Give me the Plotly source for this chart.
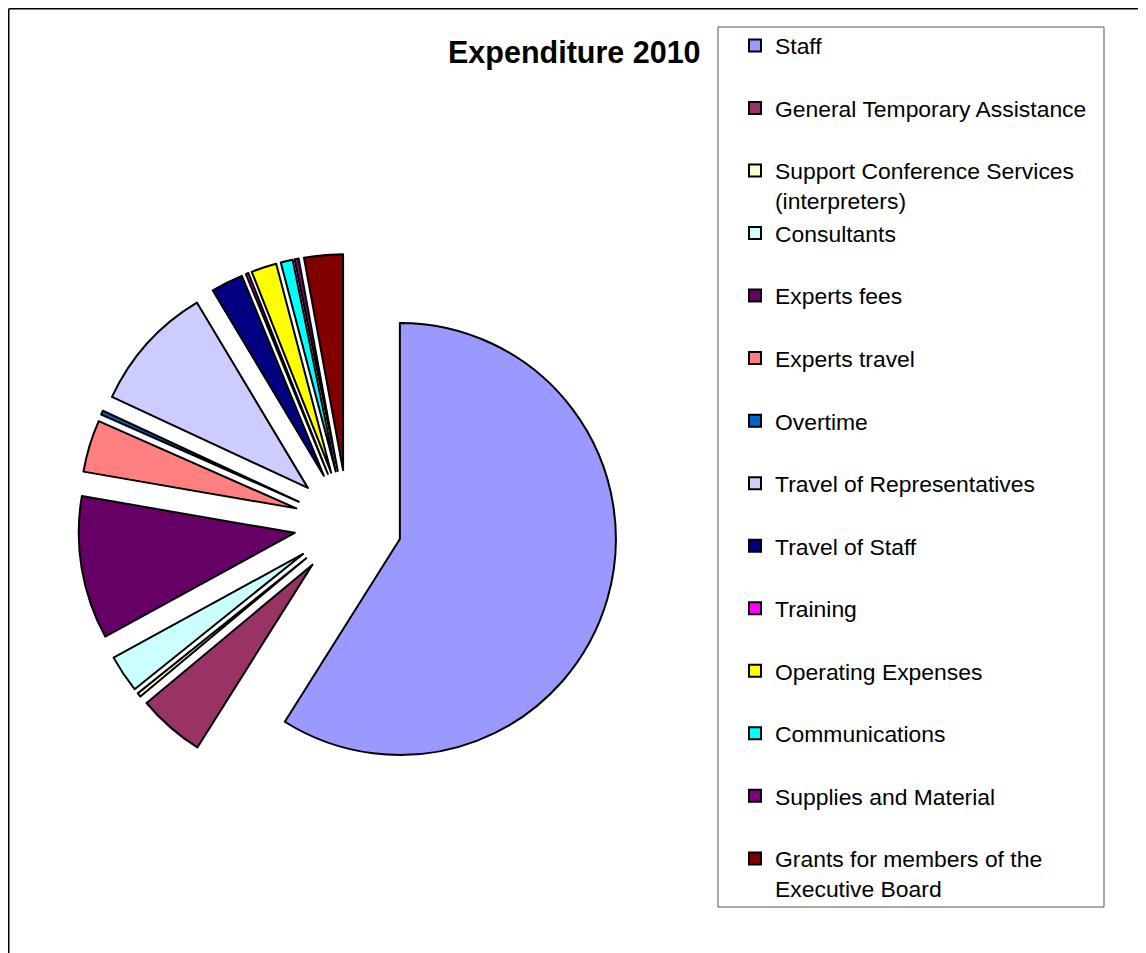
import plotly.graph_objects as go

W, H = 1146, 953
OFF = 8  # page body margin in the browser

categories = [
    "Staff",
    "General Temporary Assistance",
    "Support Conference Services<br>(interpreters)",
    "Consultants",
    "Experts fees",
    "Experts travel",
    "Overtime",
    "Travel of Representatives",
    "Travel of Staff",
    "Training",
    "Operating Expenses",
    "Communications",
    "Supplies and Material",
    "Grants for members of the<br>Executive Board",
]
shares = [59.0, 5.0, 0.3, 2.8, 10.7, 3.9, 0.3, 9.5, 2.4, 0.2, 1.9, 0.9, 0.3, 2.9]
colors = ["#9999FF", "#993366", "#FFFFCC", "#CCFFFF", "#660066", "#FF8080",
          "#0066CC", "#CCCCFF", "#000080", "#FF00FF", "#FFFF00", "#00FFFF",
          "#800080", "#800000"]

# legend labels padded to two lines so entries are evenly spaced
legend_labels = [c if "<br>" in c else c + "<br> " for c in categories]


def px_x(v):
    return (v - OFF) / W


def px_y(v):
    return 1 - (v - OFF) / H


# pie geometry (screen pixels)
cx, cy, r, pull = 348, 524, 216, 0.25
half = r * (1 + pull)

fig = go.Figure(go.Pie(
    labels=legend_labels,
    values=shares,
    sort=False,
    direction="clockwise",
    rotation=0,
    pull=[pull] * len(shares),
    textinfo="none",
    marker=dict(colors=colors, line=dict(color="black", width=2)),
    domain=dict(x=[px_x(cx - half), px_x(cx + half)],
                y=[px_y(cy + half), px_y(cy - half)]),
    hoverinfo="label+percent",
))

fig.update_layout(
    width=W, height=H,
    margin=dict(l=0, r=0, t=0, b=0),
    paper_bgcolor="white",
    plot_bgcolor="white",
    font=dict(family="Liberation Sans, Arial, sans-serif", color="black"),
    showlegend=True,
    legend=dict(
        x=px_x(735), y=px_y(24), xanchor="left", yanchor="top",
        font=dict(size=22.9, family="Liberation Sans, Arial, sans-serif", color="black"),
        valign="top",
        borderwidth=0,
        bgcolor="rgba(0,0,0,0)",
        traceorder="normal",
    ),
    annotations=[dict(
        text="<b>Expenditure 2010</b>",
        x=px_x(703), y=px_y(52), xref="paper", yref="paper",
        xanchor="right", yanchor="middle", showarrow=False,
        font=dict(size=30.5, family="Liberation Sans, Arial, sans-serif", color="black"),
    )],
    shapes=[
        dict(type="rect", xref="paper", yref="paper",
             x0=px_x(718), x1=px_x(1104), y0=px_y(907), y1=px_y(27),
             line=dict(color="#555555", width=1), fillcolor="rgba(0,0,0,0)"),
        dict(type="line", xref="paper", yref="paper",
             x0=0.75 / W, x1=1, y0=px_y(8.75), y1=px_y(8.75),
             line=dict(color="black", width=1.5)),
        dict(type="line", xref="paper", yref="paper",
             x0=0.75 / W, x1=0.75 / W, y0=px_y(8.75), y1=0,
             line=dict(color="black", width=1.5)),
    ],
)

fig.write_html("out.html")
